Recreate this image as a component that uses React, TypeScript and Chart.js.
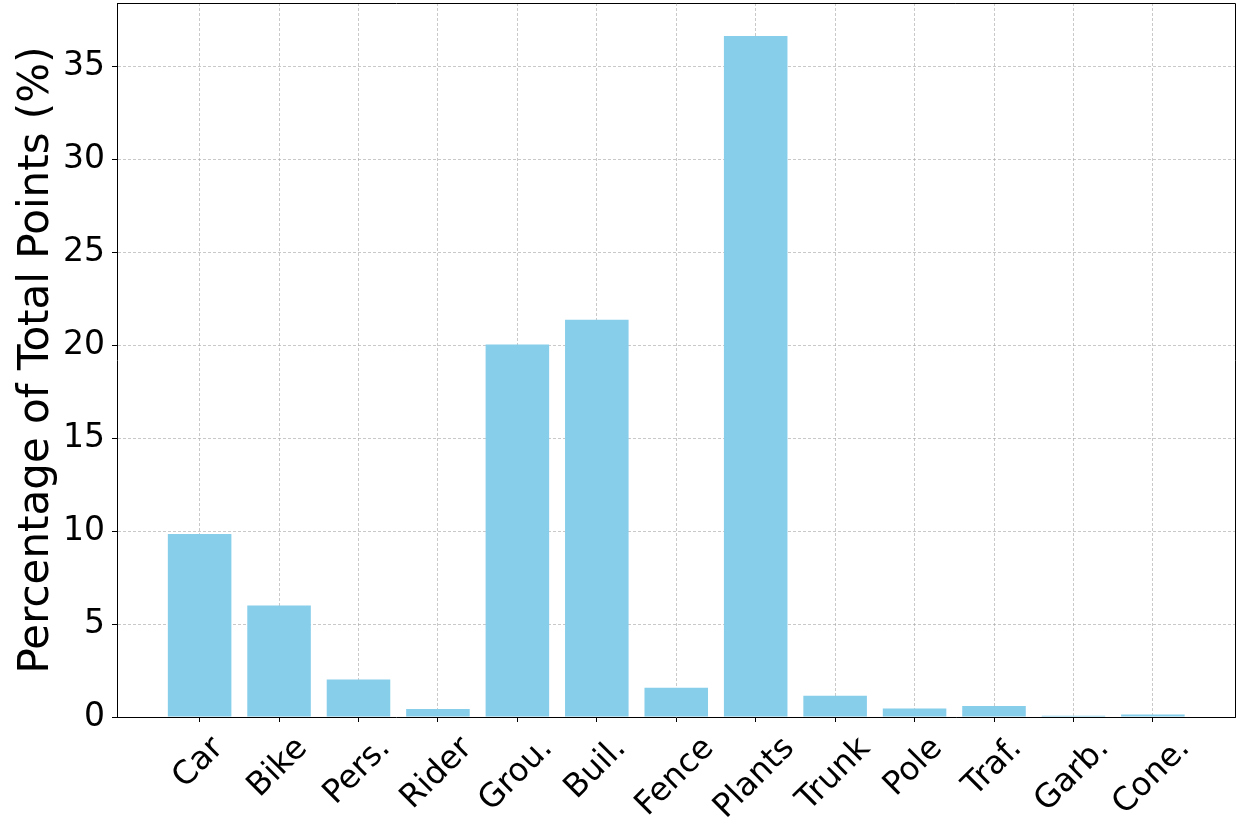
import React, { useEffect, useRef } from "react";
import { Chart, registerables } from "chart.js";

Chart.register(...registerables);

const categories = ["Car", "Bike", "Pers.", "Rider", "Grou.", "Buil.", "Fence", "Plants", "Trunk", "Pole", "Traf.", "Garb.", "Cone."];
const percentages = [9.85, 6.0, 2.02, 0.43, 20.05, 21.38, 1.58, 36.65, 1.15, 0.46, 0.59, 0.07, 0.14];
const yTicks = [0, 5, 10, 15, 20, 25, 30, 35];
const yTitle = "Percentage of Total Points (%)";

const FONT = '"DejaVu Sans", sans-serif';
const TICK_FS = 33;
const XLABEL_FS = 32.5;
const TITLE_FS = 42;

const textPlugin = {
  id: "customText",
  afterDraw(chart: any) {
    const ctx = chart.ctx;
    const xs = chart.scales.x;
    const area = chart.chartArea;
    ctx.save();
    // top and right spines
    ctx.strokeStyle = "#000";
    ctx.lineWidth = 1;
    ctx.beginPath();
    const t = Math.round(area.top) + 0.5;
    const r = Math.round(area.right) - 0.5;
    ctx.moveTo(Math.round(area.left), t);
    ctx.lineTo(r, t);
    ctx.lineTo(r, Math.round(area.bottom));
    ctx.stroke();

    // rotated category labels
    ctx.fillStyle = "#000";
    ctx.font = `${XLABEL_FS}px ${FONT}`;
    ctx.textAlign = "center";
    ctx.textBaseline = "alphabetic";
    const h = XLABEL_FS * 1.164;
    categories.forEach((label, i) => {
      const w = ctx.measureText(label).width;
      const side = (w + h) * Math.SQRT1_2;
      const cx = xs.getPixelForValue(i) - 3;
      const cy = area.bottom + 11 + side / 2;
      ctx.save();
      ctx.translate(cx, cy);
      ctx.rotate(-Math.PI / 4);
      ctx.fillText(label, 0, 0.346 * XLABEL_FS);
      ctx.restore();
    });

    // y title
    ctx.font = `${TITLE_FS}px ${FONT}`;
    ctx.save();
    ctx.translate(48, (area.top + area.bottom) / 2);
    ctx.rotate(-Math.PI / 2);
    ctx.fillText(yTitle, 0, 0);
    ctx.restore();
    ctx.restore();
  },
};

export default function App() {
  const ref = useRef<HTMLCanvasElement>(null);
  useEffect(() => {
    if (!ref.current) return;
    const chart = new Chart(ref.current, {
      type: "bar",
      data: {
        datasets: [
          {
            data: percentages.map((v, i) => ({ x: i, y: v })),
            backgroundColor: "#87CEEB",
            borderWidth: 0,
            barPercentage: 0.8,
            categoryPercentage: 1.0,
          },
        ],
      },
      options: {
        responsive: false,
        animation: false,
        layout: { padding: { left: 0, right: 3.5, top: 3, bottom: 0 } },
        plugins: { legend: { display: false }, tooltip: { enabled: false } },
        scales: {
          x: {
            type: "linear",
            min: -1.04,
            max: 13.04,
            offset: false,
            z: 1,
            afterBuildTicks: (s: any) => {
              s.ticks = categories.map((_, i) => ({ value: i }));
            },
            afterFit: (s: any) => {
              s.height = 101;
              s.paddingLeft = 0;
              s.paddingRight = 0;
            },
            ticks: { display: false },
            grid: {
              display: true,
              offset: false,
              color: "rgba(170,170,170,0.8)",
              lineWidth: 0.8,
              drawTicks: true,
              tickLength: 5,
              tickColor: "#000",
              tickWidth: 1,
            },
            border: { display: true, color: "#000", width: 1, dash: [3, 2] },
          },
          y: {
            type: "linear",
            min: 0,
            max: 38.43,
            z: 1,
            afterBuildTicks: (s: any) => {
              s.ticks = yTicks.map((v) => ({ value: v }));
            },
            afterFit: (s: any) => {
              s.width = 117;
              s.paddingTop = 0;
              s.paddingBottom = 0;
            },
            ticks: {
              color: "#000",
              font: { family: FONT, size: TICK_FS },
              padding: 7,
            },
            grid: {
              display: true,
              color: "rgba(170,170,170,0.8)",
              lineWidth: 0.8,
              drawTicks: true,
              tickLength: 5,
              tickColor: "#000",
              tickWidth: 1,
            },
            border: { display: true, color: "#000", width: 1, dash: [3, 2] },
          },
        },
      },
      plugins: [textPlugin],
    } as any);
    return () => chart.destroy();
  }, []);
  return (
    <div style={{ position: "absolute", left: 0, top: 0, width: 1239, height: 818, background: "#fff" }}>
      <canvas ref={ref} width={1239} height={818} style={{ display: "block" }} />
    </div>
  );
}
